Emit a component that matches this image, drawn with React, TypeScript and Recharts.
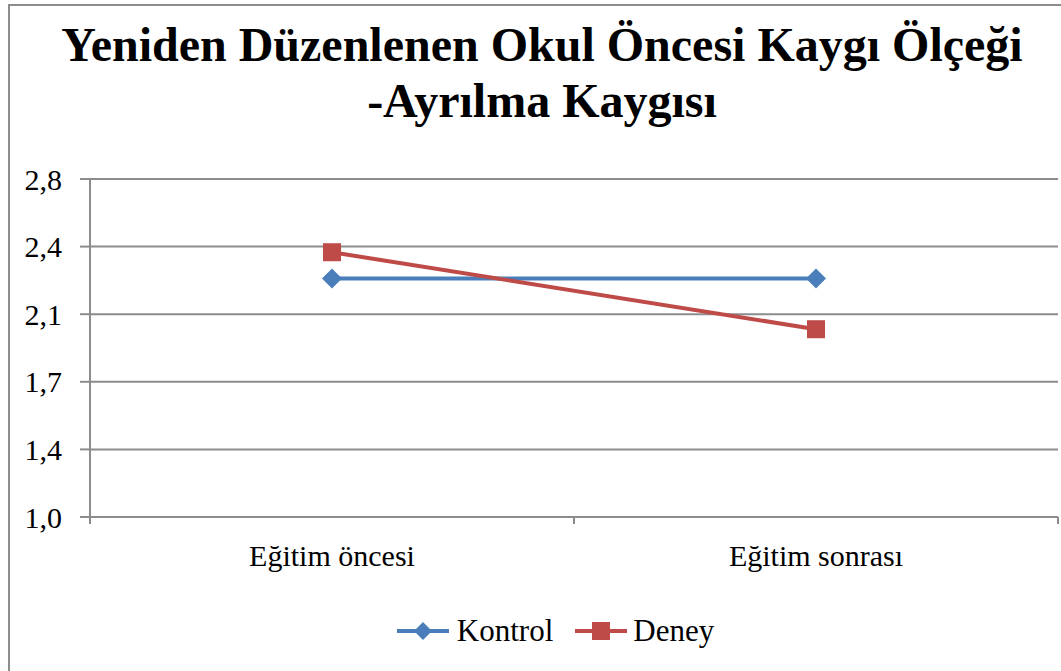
import React from 'react';
import { LineChart, Line, XAxis, YAxis, CartesianGrid, Legend } from 'recharts';

const categories = ['Eğitim öncesi', 'Eğitim sonrası'];
const kontrol = [2.27, 2.27];
const deney = [2.41, 2.0];
const yTicks = [1.0, 1.36, 1.72, 2.08, 2.44, 2.8];

const SERIF = '"Liberation Serif", "Times New Roman", serif';
const GRID = '#8c8c8c';
const BLUE = '#4a7ebb';
const RED = '#be4b48';

const data = categories.map((name, i) => ({
  x: i + 0.5,
  name,
  kontrol: kontrol[i],
  deney: deney[i],
}));

const Diamond = ({ cx, cy, r = 9, fill }: any) => (
  <polygon
    points={`${cx},${cy - r} ${cx + r},${cy} ${cx},${cy + r} ${cx - r},${cy}`}
    fill={fill}
  />
);

const Square = ({ cx, cy, s = 18, fill }: any) => (
  <rect x={cx - s / 2} y={cy - s / 2} width={s} height={s} fill={fill} />
);

// ticks at category boundaries, labels at centres (Excel style)
const XTick = ({ x, y, payload }: any) => {
  const v = payload.value;
  if (Number.isInteger(v)) {
    return <line x1={x} y1={y} x2={x} y2={y + 7} stroke={GRID} strokeWidth={2} />;
  }
  const label = categories[Math.floor(v)];
  return (
    <text x={x} y={y + 49} textAnchor="middle" fontSize={30} fontFamily={SERIF} fill="#000">
      {label}
    </text>
  );
};

const legendText: React.CSSProperties = {
  fontFamily: SERIF,
  fontSize: 31,
  color: '#000',
  lineHeight: '34px',
};

const LegendContent = () => (
  <div
    style={{
      display: 'flex',
      justifyContent: 'center',
      alignItems: 'center',
      width: 1061,
      paddingLeft: 50,
      boxSizing: 'border-box',
    }}
  >
    <svg width={52} height={22} style={{ marginRight: 8 }}>
      <line x1={0} y1={11} x2={52} y2={11} stroke={BLUE} strokeWidth={4} />
      <Diamond cx={26} cy={11} r={9} fill={BLUE} />
    </svg>
    <span style={{ ...legendText, marginRight: 22 }}>Kontrol</span>
    <svg width={52} height={22} style={{ marginRight: 6 }}>
      <line x1={0} y1={11} x2={52} y2={11} stroke={RED} strokeWidth={4} />
      <Square cx={26} cy={11} s={18} fill={RED} />
    </svg>
    <span style={legendText}>Deney</span>
  </div>
);

export default function App() {
  return (
    <div
      style={{
        position: 'absolute',
        left: 0,
        top: 0,
        width: 1061,
        height: 671,
        overflow: 'hidden',
        background: '#fff',
      }}
    >
      <div
        style={{
          position: 'absolute',
          left: 8,
          top: 4,
          width: 1100,
          height: 700,
          border: '2px solid #8c8c8c',
          boxSizing: 'border-box',
        }}
      />
      <div
        style={{
          position: 'absolute',
          left: 0,
          top: 17,
          width: 1084,
          textAlign: 'center',
          fontFamily: SERIF,
          fontWeight: 'bold',
          fontSize: 48,
          lineHeight: '56px',
          color: '#000',
        }}
      >
        Yeniden Düzenlenen Okul Öncesi Kaygı Ölçeği
        <br />
        -Ayrılma Kaygısı
      </div>
      <div style={{ position: 'absolute', left: 0, top: 0 }}>
        <LineChart
          width={1061}
          height={671}
          data={data}
          margin={{ top: 179, right: 3, bottom: 94, left: 0 }}
        >
          <CartesianGrid vertical={false} stroke={GRID} strokeWidth={2} />
          <XAxis
            dataKey="x"
            type="number"
            domain={[0, 2]}
            ticks={[0, 0.5, 1, 1.5, 2]}
            interval={0}
            height={60}
            tickSize={0}
            tickMargin={0}
            tickLine={false}
            axisLine={{ stroke: GRID, strokeWidth: 2 }}
            tick={<XTick />}
          />
          <YAxis
            width={90}
            domain={[1.0, 2.8]}
            ticks={yTicks}
            interval={0}
            tickSize={10}
            tickMargin={18}
            tickFormatter={(v: number) => v.toFixed(1).replace('.', ',')}
            tick={{ fontSize: 30, fontFamily: SERIF, fill: '#000' }}
            tickLine={{ stroke: GRID, strokeWidth: 2 }}
            axisLine={{ stroke: GRID, strokeWidth: 2 }}
          />
          <Legend
            layout="horizontal"
            verticalAlign="middle"
            align="center"
            wrapperStyle={{ top: 614, left: 0, width: 1061, fontFamily: SERIF }}
            content={<LegendContent />}
          />
          <Line
            dataKey="kontrol"
            name="Kontrol"
            stroke={BLUE}
            strokeWidth={4}
            isAnimationActive={false}
            dot={(p: any) => <Diamond key={`k${p.index}`} cx={p.cx} cy={p.cy} r={10} fill={BLUE} />}
            activeDot={false}
          />
          <Line
            dataKey="deney"
            name="Deney"
            stroke={RED}
            strokeWidth={4}
            isAnimationActive={false}
            dot={(p: any) => <Square key={`d${p.index}`} cx={p.cx} cy={p.cy} s={18} fill={RED} />}
            activeDot={false}
          />
        </LineChart>
      </div>
    </div>
  );
}
